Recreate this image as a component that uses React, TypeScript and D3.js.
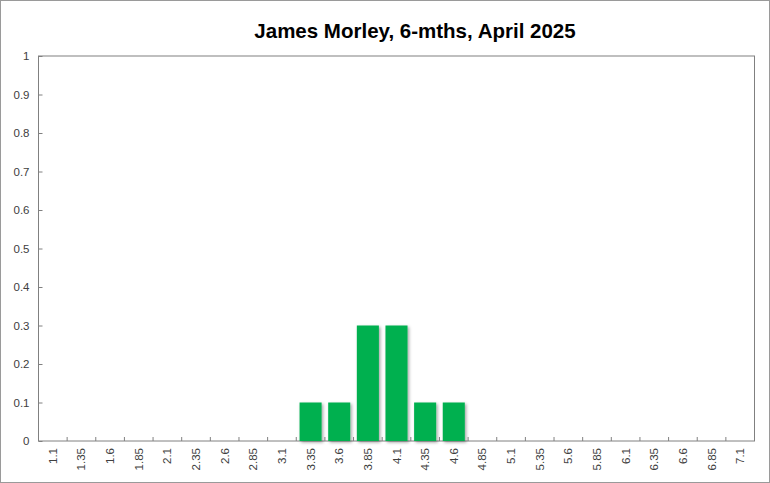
import * as d3 from "d3";
import { useEffect, useRef } from "react";

const categories = [
  "1.1", "1.35", "1.6", "1.85", "2.1", "2.35", "2.6", "2.85", "3.1", "3.35",
  "3.6", "3.85", "4.1", "4.35", "4.6", "4.85", "5.1", "5.35", "5.6", "5.85",
  "6.1", "6.35", "6.6", "6.85", "7.1",
];
const values = [
  0, 0, 0, 0, 0, 0, 0, 0, 0, 0.1,
  0.1, 0.3, 0.3, 0.1, 0.1, 0, 0, 0, 0, 0,
  0, 0, 0, 0, 0,
];
const yTicks = [0, 0.1, 0.2, 0.3, 0.4, 0.5, 0.6, 0.7, 0.8, 0.9, 1];
const title = "James Morley, 6-mths, April 2025";

const W = 770;
const H = 483;

export default function App() {
  const svgRef = useRef<SVGSVGElement>(null);

  useEffect(() => {
    if (!svgRef.current) return;
    const svg = d3.select(svgRef.current);
    svg.selectAll("*").remove();

    const margin = { top: 56, right: 15.5, bottom: 42, left: 38.5 };
    const innerW = W - margin.left - margin.right;
    const innerH = H - margin.top - margin.bottom;
    const font = "'Liberation Sans', Arial, sans-serif";

    // outer chart border
    svg.append("rect")
      .attr("x", 0.5).attr("y", 0.5)
      .attr("width", W - 1).attr("height", H - 1)
      .attr("fill", "#fff").attr("stroke", "#9a9a9a");

    const defs = svg.append("defs");
    const f = defs.append("filter").attr("id", "shadow")
      .attr("x", "-20%").attr("y", "-20%").attr("width", "150%").attr("height", "150%");
    f.append("feDropShadow")
      .attr("dx", 1.5).attr("dy", 1.5).attr("stdDeviation", 1.5)
      .attr("flood-color", "#000").attr("flood-opacity", 0.35);

    svg.append("text")
      .attr("x", 415).attr("y", 38)
      .attr("text-anchor", "middle")
      .attr("font-family", font)
      .attr("font-size", 20.5)
      .attr("font-weight", "bold")
      .attr("fill", "#000")
      .text(title);

    const g = svg.append("g").attr("transform", `translate(${margin.left},${margin.top})`);

    const x = d3.scaleBand().domain(categories).range([0, innerW]).paddingInner(0.23).paddingOuter(0.115);
    const xb = d3.scaleBand().domain(categories).range([0, innerW]);
    const y = d3.scaleLinear().domain([0, 1]).range([innerH, 0]);

    // plot box
    g.append("rect")
      .attr("width", innerW).attr("height", innerH)
      .attr("fill", "none").attr("stroke", "#808080");

    // bars
    g.selectAll(".bar")
      .data(categories.map((c, i) => ({ c, v: values[i] })).filter((d) => d.v > 0))
      .enter()
      .append("rect")
      .attr("x", (d) => x(d.c)!)
      .attr("y", (d) => y(d.v))
      .attr("width", x.bandwidth())
      .attr("height", (d) => innerH - y(d.v))
      .attr("fill", "#00b050")
      .attr("filter", "url(#shadow)");

    // y axis
    const ya = g.append("g").call(
      d3.axisLeft(y).tickValues(yTicks).tickSize(-4).tickPadding(9).tickFormat((d) => `${d}`)
    );
    ya.select(".domain").remove();
    ya.selectAll("line").attr("stroke", "#808080");
    ya.selectAll("text").attr("font-family", font).attr("font-size", 11.5).attr("fill", "#404040");

    // x axis: ticks between categories
    const boundaries = categories.slice(1).map((c) => xb(c)!);
    g.selectAll(".xt")
      .data(boundaries)
      .enter()
      .append("line")
      .attr("x1", (d) => d).attr("x2", (d) => d)
      .attr("y1", innerH).attr("y2", innerH - 4)
      .attr("stroke", "#808080");

    g.selectAll(".xl")
      .data(categories)
      .enter()
      .append("text")
      .attr("transform", (d) => `translate(${xb(d)! + xb.bandwidth() / 2 + 4},${innerH + 7}) rotate(-90)`)
      .attr("text-anchor", "end")
      .attr("font-family", font)
      .attr("font-size", 11.5)
      .attr("fill", "#404040")
      .text((d) => d);
  }, []);

  return (
    <svg
      ref={svgRef}
      width={W}
      height={H}
      style={{ display: "block", position: "absolute", left: 0, top: 0 }}
    />
  );
}
